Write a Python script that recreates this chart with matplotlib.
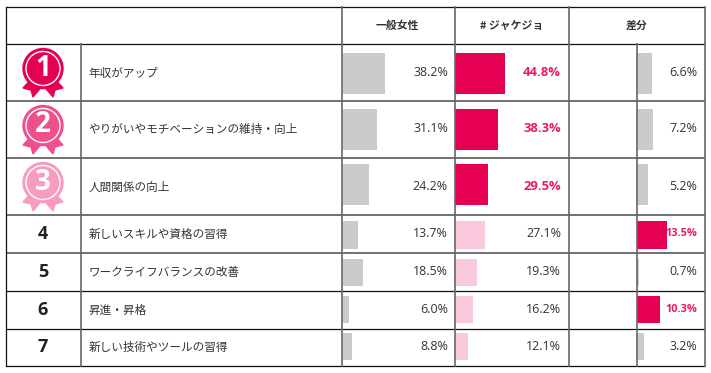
import matplotlib
matplotlib.use("Agg")
import matplotlib.pyplot as plt
from matplotlib.patches import Circle, Polygon

plt.rcParams['font.family'] = ['Noto Sans CJK JP', 'DejaVu Sans']

ranks = ["1", "2", "3", "4", "5", "6", "7"]
items = ["年収がアップ", "やりがいやモチベーションの維持・向上", "人間関係の向上",
         "新しいスキルや資格の習得", "ワークライフバランスの改善", "昇進・昇格",
         "新しい技術やツールの習得"]
headers = ["一般女性", "# ジャケジョ", "差分"]
general = [38.2, 31.1, 24.2, 13.7, 18.5, 6.0, 8.8]
jakejo = [44.8, 38.3, 29.5, 27.1, 19.3, 16.2, 12.1]
diff = [6.6, 7.2, 5.2, 13.5, 0.7, 10.3, 3.2]

PINK = "#e60054"
TEXT_PINK = "#ea1a64"
LIGHT = "#fac9dd"
GREY = "#cbcbcb"
DARK = "#333333"
NUM_FONT = "Open Sans"
medal_colors = ["#e60054", "#ef4f8c", "#f79cc0"]

# row edges and column edges, in pixels
row_y = [6.5, 44, 101, 158, 215, 253, 291, 328.5, 366]
col_x = [5.5, 80.5, 341.5, 455, 569, 705]
diff_x = 637
bar_top = [53, 109, 164, 221, 259, 296, 333]
bar_bot = [94, 150, 205, 249, 286, 323, 360]

fig = plt.figure(figsize=(7.11, 3.73), dpi=100)
ax = fig.add_axes([0, 0, 1, 1])
ax.set_xlim(0, 711)
ax.set_ylim(373, 0)
ax.axis("off")

for i in range(7):
    top, bot = bar_top[i], bar_bot[i]
    mid = (row_y[i + 1] + row_y[i + 2]) / 2
    # bars
    ax.barh((top + bot) / 2, general[i] * 1.115, left=col_x[2] + 1, height=bot - top,
            color=GREY, zorder=1)
    ax.barh((top + bot) / 2, jakejo[i] * 1.115, left=col_x[3], height=bot - top,
            color=PINK if i < 3 else LIGHT, zorder=1)
    hi = diff[i] >= 10
    ax.barh((top + bot) / 2, diff[i] * 2.2, left=diff_x, height=bot - top,
            color=PINK if hi else GREY, zorder=1)
    # labels
    ty = mid - 0.5
    ax.text(448, ty, f"{general[i]:.1f}%", ha="right", va="center", fontsize=9,
            color=DARK, family=NUM_FONT)
    ax.text(561, ty, f"{jakejo[i]:.1f}%", ha="right", va="center",
            fontsize=9.4 if i < 3 else 9,
            color=TEXT_PINK if i < 3 else DARK, fontweight="bold" if i < 3 else "normal",
            family=NUM_FONT, zorder=4)
    ax.text(697.5, ty, f"{diff[i]:.1f}%", ha="right", va="center", fontsize=7.9 if hi else 9,
            color=TEXT_PINK if hi else DARK, fontweight="bold" if hi else "normal",
            family=NUM_FONT, zorder=4)
    ax.text(88.5, mid + 0.5, items[i], ha="left", va="center", fontsize=8.35, color=DARK)
    # rank
    if i < 3:
        c = medal_colors[i]
        cy = 68.5 + 57 * i
        ax.add_patch(Polygon([(30, cy + 12), (23, cy + 19.5), (31, cy + 21.5),
                              (33, cy + 28.5), (41, cy + 19)], color=c, zorder=3))
        ax.add_patch(Polygon([(56, cy + 12), (63, cy + 19.5), (55, cy + 21.5),
                              (53, cy + 28.5), (45, cy + 19)], color=c, zorder=3))
        ax.add_patch(Circle((43, cy), 20, color=c, zorder=4))
        ax.add_patch(Circle((43, cy), 17, fill=False, ec="white", lw=1.0, zorder=5))
        ax.text(43, cy - 0.5, ranks[i], ha="center", va="center", fontsize=20,
                fontweight="bold", color="white", family=NUM_FONT, zorder=6)
    else:
        ax.text(43, mid, ranks[i], ha="center", va="center", fontsize=13,
                fontweight="bold", color="#222222", family=NUM_FONT)

for j, h in enumerate(headers):
    ax.text((col_x[j + 2] + col_x[j + 3]) / 2 - 0.5, 25.5, h, ha="center", va="center",
            fontsize=7.8, fontweight="bold", color=DARK)

# table lines
for k, y in enumerate(row_y):
    thin = k in (0, 1, 6, 7, 8)
    ax.plot([col_x[0], col_x[-1]], [y, y], color="#111111" if thin else "#666666",
            lw=0.9 if thin else 1.3, zorder=2, solid_capstyle="butt")
for x in col_x:
    start = row_y[1] if x == col_x[1] else row_y[0]
    ax.plot([x, x], [start, row_y[-1]], color="#666666" if x != col_x[0] else "#111111",
            lw=1.2 if x != col_x[0] else 0.9, zorder=2)
ax.plot([diff_x, diff_x], [row_y[1], row_y[-1]], color="#666666", lw=1.2, zorder=2)

fig.savefig("out.png", dpi=100)
